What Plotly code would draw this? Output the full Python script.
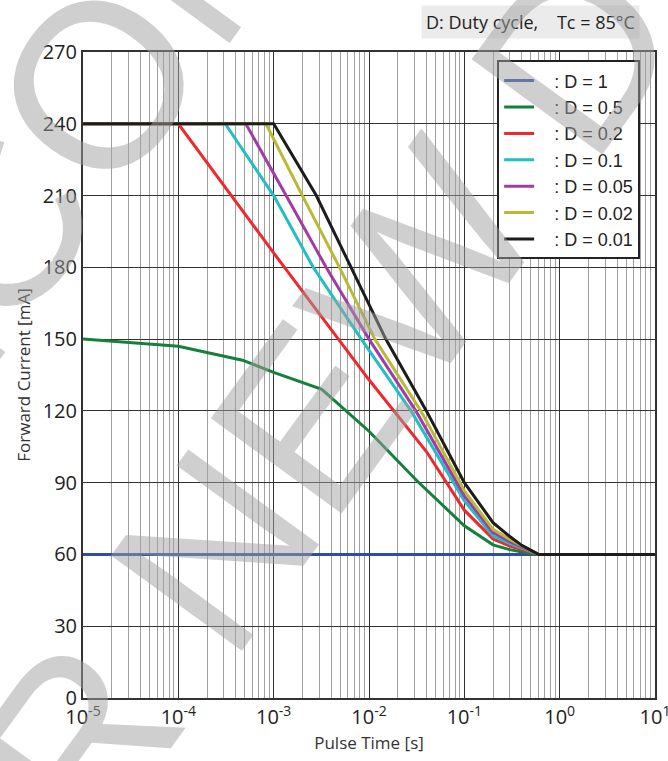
import plotly.graph_objects as go

# ---------------- data ----------------
series_names = [": D = 1", ": D = 0.5", ": D = 0.2", ": D = 0.1", ": D = 0.05", ": D = 0.02", ": D = 0.01"]
series_colors = ["#2d4f9f", "#15803d", "#f0282d", "#1fbfc3", "#a33ba6", "#b9b933", "#1c1c1c"]

t_d1 = [1e-5, 10]
i_d1 = [60, 60]

t_d05 = [1e-5, 1e-4, 4.7e-4, 1e-3, 3.2e-3, 5.8e-3, 1e-2, 3.2e-2, 0.1, 0.2, 0.3, 0.5, 0.6, 10]
i_d05 = [150, 147, 141.2, 136.1, 129, 120, 111.5, 90.7, 72, 64, 62, 60.3, 60, 60]

t_d02 = [1e-5, 1e-4, 1e-3, 1e-2, 0.04, 0.1, 0.2, 0.3, 0.6, 10]
i_d02 = [240, 240, 186, 133, 103, 78.5, 66.5, 63.5, 60, 60]

t_d01 = [1e-5, 3.1e-4, 1e-3, 2.6e-3, 8.3e-3, 2.76e-2, 0.1, 0.2, 0.3, 0.6, 10]
i_d01 = [240, 240, 210, 180, 150, 120, 82.4, 67.7, 64.5, 60, 60]

t_d005 = [1e-5, 5.1e-4, 1.35e-3, 3.55e-3, 1e-2, 3.1e-2, 0.1, 0.2, 0.3, 0.6, 10]
i_d005 = [240, 240, 210, 180, 150, 120, 84.5, 69.1, 65.3, 60, 60]

t_d002 = [1e-5, 8.3e-4, 2.0e-3, 4.9e-3, 1.15e-2, 3.5e-2, 0.1, 0.2, 0.3, 0.6, 10]
i_d002 = [240, 240, 210, 180, 150, 120, 86.6, 70.5, 66.3, 60, 60]

t_d001 = [1e-5, 1e-3, 2.8e-3, 6.5e-3, 1.5e-2, 4e-2, 0.1, 0.2, 0.3, 0.4, 0.6, 10]
i_d001 = [240, 240, 210, 180, 150, 120, 90, 73.3, 67.5, 63.8, 60, 60]

xs = [t_d1, t_d05, t_d02, t_d01, t_d005, t_d002, t_d001]
ys = [i_d1, i_d05, i_d02, i_d01, i_d005, i_d002, i_d001]

x_tickvals = [1e-5, 1e-4, 1e-3, 1e-2, 1e-1, 1, 10]
x_ticktext = ["10<sup>-5</sup>", "10<sup>-4</sup>", "10<sup>-3</sup>", "10<sup>-2</sup>",
              "10<sup>-1</sup>", "10<sup>0</sup>", "10<sup>1</sup>"]
y_tickvals = [0, 30, 60, 90, 120, 150, 180, 210, 240, 270]

header_text = "D: Duty cycle,\u00a0\u00a0\u00a0\u00a0Tc = 85°C"
x_title = "Pulse Time [s]"
y_title = "Forward Current [mA]"
wm_lines = ["NOT RECOMMENDED", "FOR NEW DESIGN"]

# ---------------- figure ----------------
fig = go.Figure()
for k, (name, col) in enumerate(zip(series_names, series_colors)):
    fig.add_trace(go.Scatter(
        x=xs[k], y=ys[k], mode="lines", name="\u00a0\u00a0\u00a0" + name, legendgroup=str(k),
        line=dict(color=col, width=3),
    ))

fig.update_layout(
    width=668, height=761,
    margin=dict(l=83, r=13, t=52, b=63, autoexpand=False),
    paper_bgcolor="white", plot_bgcolor="white",
    font=dict(family="Open Sans", color="#222"),
    showlegend=True,
    legend=dict(
        x=0.974, xanchor="right", y=0.987, yanchor="top",
        bgcolor="white", bordercolor="#222", borderwidth=2,
        font=dict(family="Liberation Sans", size=18, color="#222"),
        tracegroupgap=0, itemwidth=30,
    ),
)

fig.update_xaxes(
    type="log", range=[-5, 1], automargin=False,
    tickmode="array", tickvals=x_tickvals, ticktext=x_ticktext,
    ticklabeloverflow="allow",
    tickfont=dict(size=20, family="Open Sans", color="#222"),
    showgrid=True, gridcolor="#333", gridwidth=1,
    minor=dict(dtick="D1", showgrid=True, gridcolor="#a0a0a0", gridwidth=1, ticks=""),
    showline=True, linecolor="#333", linewidth=2, mirror=True,
    ticks="", zeroline=False,
    title=dict(text=x_title, font=dict(size=17, family="Open Sans", color="#333"), standoff=8),
)
fig.update_yaxes(
    range=[0, 270], tickmode="array", tickvals=y_tickvals, automargin=False,
    tickfont=dict(size=20, family="Open Sans", color="#222"),
    showgrid=True, gridcolor="#333", gridwidth=1,
    showline=True, linecolor="#333", linewidth=2, mirror=True,
    ticks="", zeroline=False,
    title=dict(text=y_title, font=dict(size=17, family="Open Sans", color="#333"), standoff=8),
)

# header box
fig.add_annotation(
    xref="paper", yref="paper", x=0.974, y=1.073, xanchor="right", yanchor="top",
    text=header_text, showarrow=False, bgcolor="#ebebeb", borderpad=4,
    font=dict(family="Open Sans", size=18, color="#222"),
)

# watermark
wm_pos = [(0.11, 1.05), (0.633, 0.72)]
for txt, (px, py) in zip(wm_lines, wm_pos):
    fig.add_annotation(
        xref="paper", yref="paper", x=px, y=py, xanchor="center", yanchor="middle",
        text=txt, showarrow=False, textangle=-54,
        font=dict(family="Liberation Sans", size=235, color="rgba(160,160,160,0.5)"),
    )

fig.write_html("out.html")
